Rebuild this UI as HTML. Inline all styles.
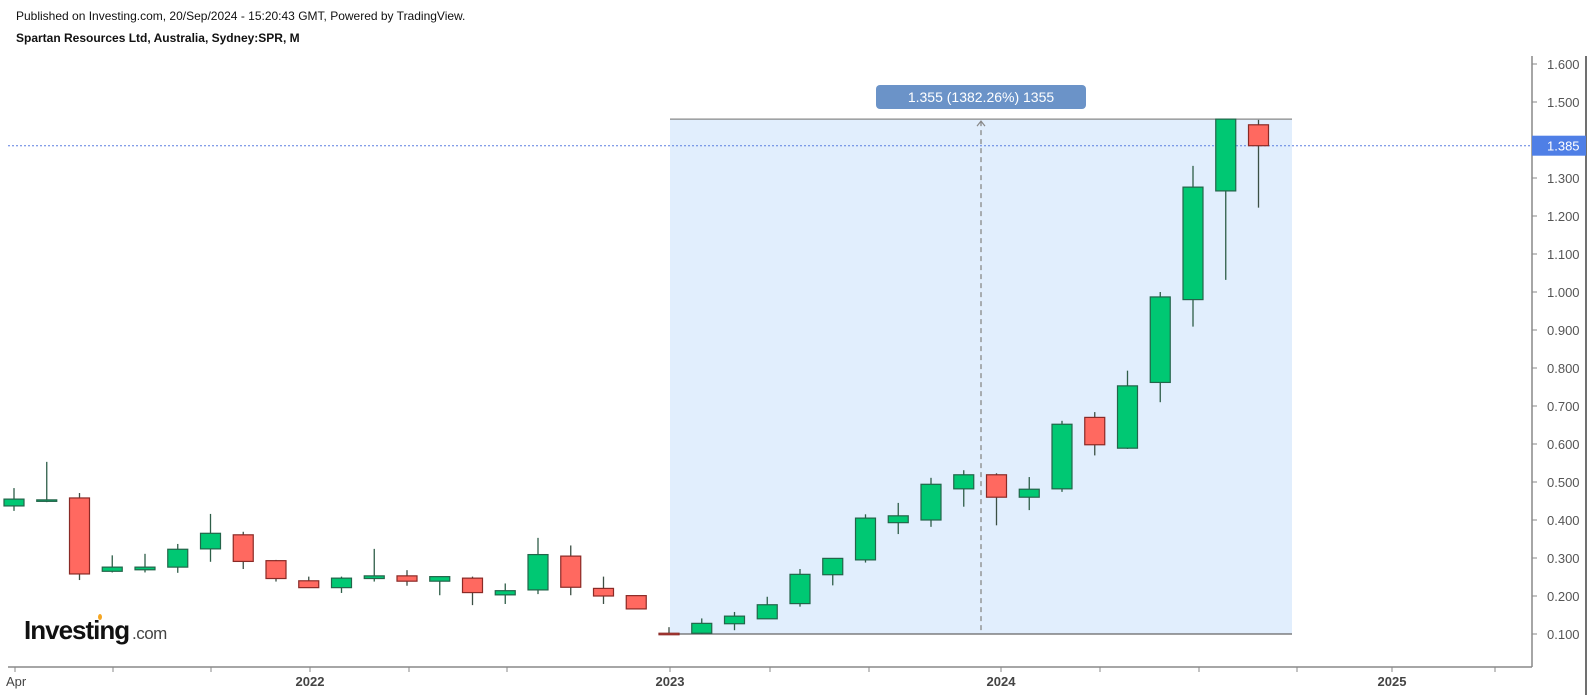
<!DOCTYPE html>
<html><head><meta charset="utf-8"><style>
html,body{margin:0;padding:0;background:#fff;}
body{width:1593px;height:695px;overflow:hidden;position:relative;font-family:"Liberation Sans",Arial,sans-serif;}
#hdr1{position:absolute;left:16px;top:9px;font-size:12px;color:#111;}
#hdr2{position:absolute;left:16px;top:31px;font-size:12px;font-weight:bold;color:#111;}
svg{position:absolute;left:0;top:0;}
</style></head><body>
<div id="hdr1">Published on Investing.com, 20/Sep/2024 - 15:20:43 GMT, Powered by TradingView.</div>
<div id="hdr2">Spartan Resources Ltd, Australia, Sydney:SPR, M</div>
<svg id="chart" width="1593" height="695"></svg>
<script>
const opens  = [0.437,0.450,0.458,0.265,0.269,0.276,0.324,0.361,0.293,0.240,0.222,0.246,0.253,0.239,0.247,0.203,0.216,0.305,0.220,0.201,0.102,0.102,0.127,0.140,0.180,0.256,0.295,0.393,0.400,0.482,0.519,0.460,0.482,0.670,0.589,0.762,0.980,1.266,1.440];
const highs  = [0.484,0.553,0.471,0.307,0.311,0.337,0.416,0.369,0.295,0.251,0.251,0.324,0.268,0.251,0.251,0.233,0.353,0.333,0.251,0.201,0.118,0.141,0.158,0.198,0.271,0.299,0.415,0.445,0.511,0.531,0.523,0.513,0.661,0.684,0.793,1.000,1.332,1.455,1.453];
const lows   = [0.424,0.447,0.242,0.262,0.262,0.261,0.290,0.271,0.238,0.221,0.208,0.238,0.227,0.202,0.176,0.179,0.205,0.202,0.179,0.166,0.100,0.100,0.110,0.140,0.172,0.228,0.288,0.363,0.382,0.435,0.386,0.426,0.474,0.570,0.587,0.710,0.909,1.032,1.222];
const closes = [0.455,0.453,0.258,0.276,0.276,0.323,0.365,0.291,0.246,0.222,0.247,0.253,0.239,0.251,0.209,0.214,0.309,0.223,0.200,0.166,0.100,0.128,0.147,0.177,0.257,0.299,0.405,0.411,0.494,0.519,0.460,0.481,0.652,0.598,0.753,0.987,1.276,1.455,1.385];
const yTicks = [0.1,0.2,0.3,0.4,0.5,0.6,0.7,0.8,0.9,1.0,1.1,1.2,1.3,1.4,1.5,1.6];
const xLabels = ["Apr","2022","2023","2024","2025"];
const xLabelPos = [15,310,670,1001,1392];
const xMinorTicks = [113,211,409,507,770,869,1100,1199,1297,1495];
const lastPrice = 1.385;
const measureFrom = 20, measureTo = 38, measureLow = 0.100, measureHigh = 1.455;

const NS="http://www.w3.org/2000/svg";
const svg=document.getElementById('chart');
const AX=1532;
const y=v=>634-(v-0.1)*380;
const x=i=>14+32.75*i;
function mk(t,a,p){const e=document.createElementNS(NS,t);for(const k in a)e.setAttribute(k,a[k]);(p||svg).appendChild(e);return e;}

const mb=mk('rect',{x:670,y:y(measureHigh),width:1292-670,height:y(measureLow)-y(measureHigh),fill:'#e1eefd'});


mk('line',{x1:670,x2:1292,y1:y(measureHigh),y2:y(measureHigh),stroke:'#888','stroke-width':1.3});
mk('line',{x1:670,x2:1292,y1:y(measureLow),y2:y(measureLow),stroke:'#666','stroke-width':1.3});
mk('line',{x1:981,x2:981,y1:y(measureHigh)+2,y2:y(measureLow),stroke:'#888','stroke-width':1.3,'stroke-dasharray':'5,4'});
mk('path',{d:`M977 ${y(measureHigh)+7} L981 ${y(measureHigh)+2} L985 ${y(measureHigh)+7}`,stroke:'#888',fill:'none','stroke-width':1.2});
const lb=mk('rect',{x:876,y:85,width:210,height:24,rx:4,fill:'#6b93c8'});


const lt=mk('text',{x:981,y:102,'text-anchor':'middle','font-size':14,fill:'#fff','font-family':'Liberation Sans, sans-serif'});
lt.textContent='1.355 (1382.26%) 1355';

const pl=mk('line',{x1:8,x2:AX,y1:y(lastPrice),y2:y(lastPrice),stroke:'#5b7fe0','stroke-width':1,'stroke-dasharray':'2,2'});



for(let i=0;i<opens.length;i++){
  const up=closes[i]>=opens[i];
  const g=mk('g',{});
  
  
  mk('line',{x1:x(i),x2:x(i),y1:y(highs[i]),y2:y(lows[i]),stroke:up?'#2e5e48':'#3b4f44','stroke-width':1.3},g);
  const top=y(Math.max(opens[i],closes[i])),bot=y(Math.min(opens[i],closes[i]));
  mk('rect',{x:x(i)-10,y:top,width:20,height:Math.max(bot-top,1.5),fill:up?'#00c873':'#ff6960',stroke:up?'#23654a':'#8a2a26','stroke-width':1.2},g);
}

const ax=mk('g',{});


mk('line',{x1:AX,x2:AX,y1:56,y2:667,stroke:'#888','stroke-width':1.5},ax);
mk('line',{x1:1586,x2:1586,y1:56,y2:695,stroke:'#111','stroke-width':1.2});
for(const v of yTicks){
  mk('line',{x1:AX,x2:AX+5,y1:y(v),y2:y(v),stroke:'#888'},ax);
  const t=mk('text',{x:1547,y:y(v)+5,'font-size':13,fill:'#555','font-family':'Liberation Sans, sans-serif'},ax);
  t.textContent=v.toFixed(3);
}
const pb=mk('rect',{x:AX,y:y(lastPrice)-10,width:1586-AX,height:20,fill:'#4f7fe6'});


const pt=mk('text',{x:1547,y:y(lastPrice)+5,'font-size':13,fill:'#fff','font-family':'Liberation Sans, sans-serif'});
pt.textContent=lastPrice.toFixed(3);

const xa=mk('g',{});


mk('line',{x1:8,x2:AX,y1:667,y2:667,stroke:'#888','stroke-width':1.5},xa);
for(const p of xMinorTicks){mk('line',{x1:p,x2:p,y1:667,y2:672,stroke:'#888'},xa);}
xLabels.forEach((l,i)=>{
  mk('line',{x1:xLabelPos[i],x2:xLabelPos[i],y1:667,y2:672,stroke:'#888'},xa);
  const t=mk('text',{x:xLabelPos[i],y:686,'text-anchor':i==0?'start':'middle','font-size':13,'font-weight':i==0?'normal':'bold',fill:'#444','font-family':'Liberation Sans, sans-serif'},xa);
  if(i==0)t.setAttribute('x',6);
  t.textContent=l;
});

const lg=mk('g',{});


const l1=mk('text',{x:24,y:639,'font-size':26,'font-weight':'bold',fill:'#111','font-family':'Liberation Sans, sans-serif','letter-spacing':'-1'},lg);
l1.textContent='Investing';
const l2=mk('text',{x:132,y:639,'font-size':17,fill:'#444','font-family':'Liberation Sans, sans-serif','letter-spacing':'-0.5'},lg);
l2.textContent='.com';
mk('ellipse',{cx:100,cy:617,rx:2,ry:3,fill:'#f5a623'},lg);
</script>
</body></html>
